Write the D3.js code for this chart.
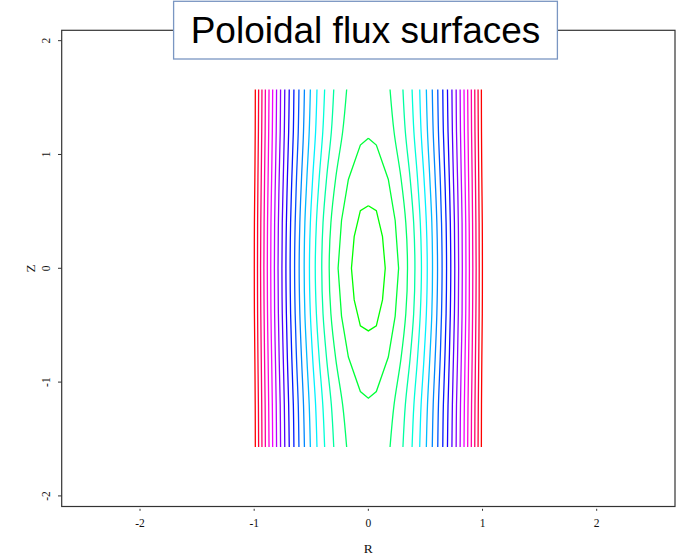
<!DOCTYPE html>
<html>
<head>
<meta charset="utf-8">
<script src="https://cdn.jsdelivr.net/npm/d3@7"></script>
<style>
  html, body { margin: 0; padding: 0; background: #ffffff; }
  svg { display: block; }
</style>
</head>
<body>
<svg id="chart" width="680" height="557"></svg>
<script>
// ---------------- data ----------------
const title = "Poloidal flux surfaces";
const xTicks = [-2, -1, 0, 1, 2];
const yTicks = [-2, -1, 0, 1, 2];
const xLabel = "R";
const yLabel = "Z";

// Z rows (upper half; the surfaces are mirror-symmetric about Z = 0 and R = 0)
const zRows = [0, 0.4, 0.8, 1.2, 1.5708];
// |R| of the 18 open flux surfaces at each Z row (inner -> outer)
const rMid  = [0.343, 0.408, 0.465, 0.516, 0.562, 0.606, 0.646, 0.685, 0.722, 0.757, 0.791, 0.823, 0.855, 0.885, 0.915, 0.944, 0.971, 0.999];
const r04   = [0.328, 0.397, 0.455, 0.508, 0.556, 0.600, 0.641, 0.681, 0.718, 0.754, 0.788, 0.821, 0.853, 0.883, 0.913, 0.942, 0.970, 0.998];
const r08   = [0.285, 0.365, 0.430, 0.487, 0.538, 0.585, 0.629, 0.670, 0.709, 0.745, 0.781, 0.814, 0.847, 0.878, 0.909, 0.938, 0.967, 0.994];
const r12   = [0.225, 0.324, 0.399, 0.462, 0.518, 0.568, 0.614, 0.657, 0.698, 0.736, 0.772, 0.807, 0.841, 0.873, 0.904, 0.934, 0.963, 0.991];
const rEdge = [0.190, 0.303, 0.383, 0.450, 0.508, 0.560, 0.608, 0.652, 0.693, 0.732, 0.769, 0.804, 0.838, 0.870, 0.902, 0.932, 0.961, 0.990];

// closed surfaces around the magnetic axis (upper-right quarter, apex -> midplane)
const innerClosedR = [0, 0.070, 0.124, 0.148];
const innerClosedZ = [0.550, 0.506, 0.278, 0];
const outerClosedR = [0, 0.070, 0.175, 0.235, 0.265];
const outerClosedZ = [1.142, 1.083, 0.780, 0.420, 0];

// hue of each level, innermost closed surface first (rainbow palette)
const levelHues = [120, 133, 145, 158, 171, 183, 196, 208, 221, 234, 246, 259, 272, 284, 297, 309, 322, 335, 347, 360];

// ---------------- drawing ----------------
const svg = d3.select("#chart");
const x = d3.scaleLinear().domain([-2.686, 2.686]).range([61.7, 675]);
const y = d3.scaleLinear().domain([-2.093, 2.091]).range([506.5, 30.3]);
const color = i => d3.hsl(levelHues[i] % 360, 1, 0.5).formatHex();

const line = d3.line().x(d => x(d[0])).y(d => y(d[1]));
const smooth = d3.line().x(d => x(d[0])).y(d => y(d[1])).curve(d3.curveCatmullRom.alpha(0.5));

const rowsR = [rMid, r04, r08, r12, rEdge];
const gC = svg.append("g").attr("fill", "none").attr("stroke-width", 1.3);

// open surfaces, left and right
rMid.forEach((_, k) => {
  const half = zRows.map((z, j) => [rowsR[j][k], z]);
  const full = half.slice(1).reverse().map(p => [p[0], -p[1]]).concat(half);
  [1, -1].forEach(s => {
    gC.append("path")
      .attr("d", smooth(full.map(p => [s * p[0], p[1]])))
      .attr("stroke", color(k + 2));
  });
});

// closed surfaces
function closedPts(R, Z) {
  const q1 = R.map((r, i) => [r, Z[i]]);                       // top -> right mid
  const q4 = q1.slice(0, -1).reverse().map(p => [p[0], -p[1]]); // right mid -> bottom
  const q3 = q1.slice(1).map(p => [-p[0], -p[1]]);              // bottom -> left mid
  const q2 = q1.slice(1, -1).reverse().map(p => [-p[0], p[1]]); // left mid -> top
  return q1.concat(q4, q3, q2, [q1[0]]);
}
gC.append("path").attr("d", line(closedPts(innerClosedR, innerClosedZ))).attr("stroke", color(0));
gC.append("path").attr("d", line(closedPts(outerClosedR, outerClosedZ))).attr("stroke", color(1));

// plot box
svg.append("rect")
  .attr("x", x.range()[0]).attr("y", y.range()[1])
  .attr("width", x.range()[1] - x.range()[0])
  .attr("height", y.range()[0] - y.range()[1])
  .attr("fill", "none").attr("stroke", "#333").attr("stroke-width", 1.2);

// x axis ticks and labels
const gx = svg.append("g").attr("font-family", "'Liberation Serif', 'Times New Roman', serif").attr("font-size", 11.5).attr("fill", "#111");
xTicks.forEach(t => {
  gx.append("line").attr("x1", x(t)).attr("x2", x(t)).attr("y1", 508.8).attr("y2", 510.8).attr("stroke", "#333").attr("stroke-width", 1);
  gx.append("text").attr("x", x(t)).attr("y", 527).attr("text-anchor", "middle").text(t);
});
gx.append("text").attr("x", x(0)).attr("y", 553).attr("text-anchor", "middle").attr("font-size", 13.5).text(xLabel);

// y axis ticks and labels
yTicks.forEach(t => {
  gx.append("line").attr("x1", 58).attr("x2", 61.7).attr("y1", y(t)).attr("y2", y(t)).attr("stroke", "#333").attr("stroke-width", 1);
  gx.append("text").attr("transform", `translate(49.5,${y(t)}) rotate(-90)`).attr("text-anchor", "middle").text(t);
});
gx.append("text").attr("transform", `translate(35,${y(0)}) rotate(-90)`).attr("text-anchor", "middle").attr("font-size", 13.5).text(yLabel);

// title box
svg.append("rect").attr("x", 173.6).attr("y", 1.3).attr("width", 383.8).attr("height", 57.7)
  .attr("fill", "#fff").attr("stroke", "#7a96c2").attr("stroke-width", 1.3);
svg.append("text").attr("x", 365.5).attr("y", 43.3).attr("text-anchor", "middle")
  .attr("font-family", "'Liberation Sans', Arial, sans-serif").attr("font-size", 37).attr("fill", "#000")
  .text(title);
</script>
</body>
</html>
